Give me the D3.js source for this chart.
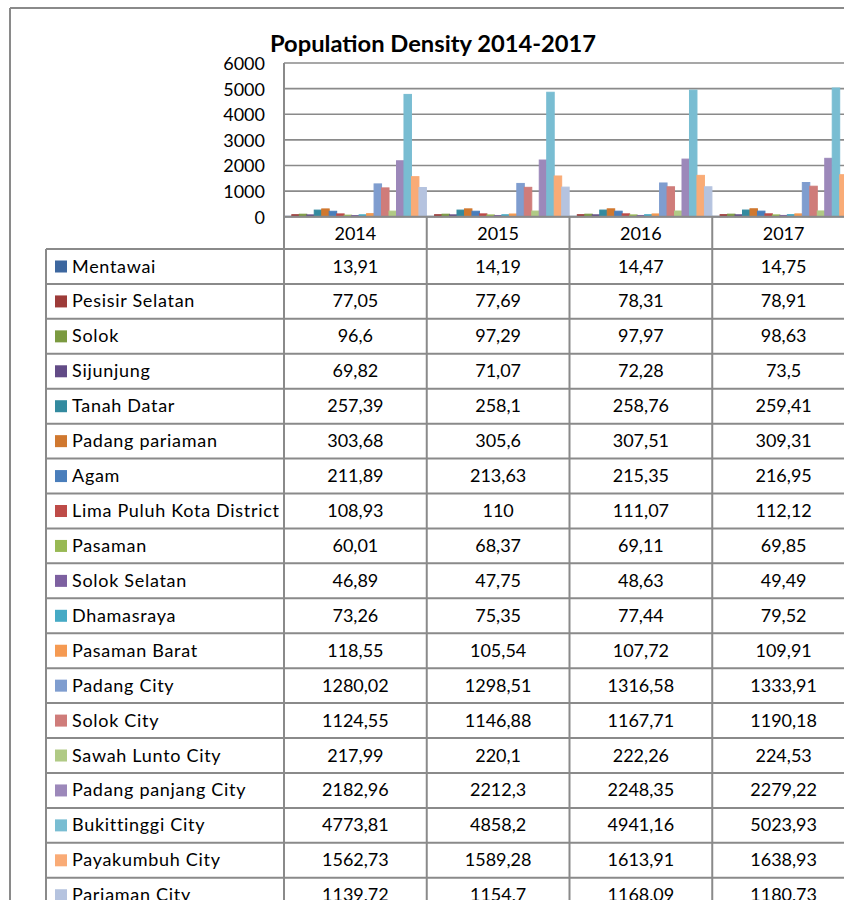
<!DOCTYPE html>
<html>
<head>
<meta charset="utf-8">
<script src="https://cdn.jsdelivr.net/npm/d3@7/dist/d3.min.js"></script>
<style>
  html, body { margin: 0; padding: 0; background: #fff; }
  svg { display: block; font-family: Lato, "Open Sans", sans-serif; }
</style>
</head>
<body>
<svg id="chart" width="844" height="900"></svg>
<script>
const title = "Population Density 2014-2017";
const categories = ["2014", "2015", "2016", "2017"];
const seriesNames = [
  "Mentawai", "Pesisir Selatan", "Solok", "Sijunjung", "Tanah Datar",
  "Padang pariaman", "Agam", "Lima Puluh Kota District", "Pasaman",
  "Solok Selatan", "Dhamasraya", "Pasaman Barat", "Padang City",
  "Solok City", "Sawah Lunto City", "Padang panjang City",
  "Bukittinggi City", "Payakumbuh City", "Pariaman City"
];
const v2014 = [13.91, 77.05, 96.6, 69.82, 257.39, 303.68, 211.89, 108.93, 60.01, 46.89, 73.26, 118.55, 1280.02, 1124.55, 217.99, 2182.96, 4773.81, 1562.73, 1139.72];
const v2015 = [14.19, 77.69, 97.29, 71.07, 258.1, 305.6, 213.63, 110, 68.37, 47.75, 75.35, 105.54, 1298.51, 1146.88, 220.1, 2212.3, 4858.2, 1589.28, 1154.7];
const v2016 = [14.47, 78.31, 97.97, 72.28, 258.76, 307.51, 215.35, 111.07, 69.11, 48.63, 77.44, 107.72, 1316.58, 1167.71, 222.26, 2248.35, 4941.16, 1613.91, 1168.09];
const v2017 = [14.75, 78.91, 98.63, 73.5, 259.41, 309.31, 216.95, 112.12, 69.85, 49.49, 79.52, 109.91, 1333.91, 1190.18, 224.53, 2279.22, 5023.93, 1638.93, 1180.73];
const yTicks = [0, 1000, 2000, 3000, 4000, 5000, 6000];
const colors = [
  "#3d679f", "#9d3b39", "#7b9a40", "#624b86", "#338a9f", "#d0782f",
  "#4a7ebb", "#be4b48", "#98b954", "#7d60a0", "#46aac5", "#f59a52",
  "#7f9dcf", "#cf7c7a", "#b0ca85", "#9c88ba", "#79bdd2", "#f9ab76", "#b5c3df"
];

const valuesByYear = [v2014, v2015, v2016, v2017];
const data = categories.map((c, ci) => ({
  cat: c,
  vals: seriesNames.map((s, si) => ({ name: s, si, v: valuesByYear[ci][si] }))
}));

const svg = d3.select("#chart");
const gridColor = "#8a8a8a";
const plotLeft = 284, plotTop = 63, plotBottom = 216.7;
const catStep = 142.75;
const tableTop = 249, rowH = 34.93, tableLeft = 46, frameLeft = 10;
const W = 844, H = 900;

const x = d3.scaleBand().domain(categories).range([plotLeft, plotLeft + catStep * categories.length]).paddingInner(0).paddingOuter(0);
const xs = d3.scaleBand().domain(d3.range(seriesNames.length)).range([0, x.bandwidth()]).paddingOuter(0.045).paddingInner(0);
const y = d3.scaleLinear().domain([0, 6000]).range([plotBottom, plotTop]);

// Outer chart frame
svg.append("line").attr("x1", frameLeft).attr("x2", W).attr("y1", 8).attr("y2", 8).attr("stroke", gridColor).attr("stroke-width", 2);
svg.append("line").attr("x1", frameLeft).attr("x2", frameLeft).attr("y1", 8).attr("y2", H).attr("stroke", gridColor).attr("stroke-width", 2);

// Title
svg.append("text").attr("x", 433).attr("y", 52).attr("text-anchor", "middle")
  .attr("font-weight", "bold").attr("font-size", 22.5).attr("fill", "#000")
  .attr("textLength", 326).attr("lengthAdjust", "spacingAndGlyphs").text(title);

// Gridlines
svg.append("g").selectAll("line").data(yTicks).join("line")
  .attr("x1", plotLeft).attr("x2", W)
  .attr("y1", d => y(d)).attr("y2", d => y(d))
  .attr("stroke", gridColor).attr("stroke-width", 1.6);

// Y axis labels
const yAxis = d3.axisLeft(y).tickValues(yTicks).tickSize(0).tickPadding(0).tickFormat(d3.format("d"));
const ya = svg.append("g").attr("transform", `translate(${265},0)`).call(yAxis);
ya.select(".domain").remove();
ya.selectAll("text").attr("font-size", 18).attr("fill", "#000").attr("font-family", "Lato, sans-serif").attr("dy", "0.36em");

// Bars
const groups = svg.append("g").selectAll("g").data(data).join("g")
  .attr("transform", d => `translate(${x(d.cat)},0)`);
groups.selectAll("rect").data(d => d.vals).join("rect")
  .attr("x", d => xs(d.si))
  .attr("width", xs.bandwidth())
  .attr("y", d => y(d.v))
  .attr("height", d => plotBottom - y(d.v))
  .attr("fill", d => colors[d.si])
  .attr("stroke", d => colors[d.si])
  .attr("stroke-width", 1);

// Plot left border and x-axis line
svg.append("line").attr("x1", plotLeft).attr("x2", plotLeft).attr("y1", plotTop).attr("y2", H).attr("stroke", gridColor).attr("stroke-width", 2);
svg.append("line").attr("x1", plotLeft).attr("x2", W).attr("y1", plotBottom).attr("y2", plotBottom).attr("stroke", gridColor).attr("stroke-width", 2);

// Category separators in table
svg.append("g").selectAll("line").data(categories.slice(1)).join("line")
  .attr("x1", d => x(d)).attr("x2", d => x(d))
  .attr("y1", plotBottom).attr("y2", H)
  .attr("stroke", gridColor).attr("stroke-width", 2);

// Category header labels
svg.append("g").selectAll("text").data(categories).join("text")
  .attr("x", d => x(d) + x.bandwidth() / 2).attr("y", 240)
  .attr("text-anchor", "middle").attr("font-size", 18).attr("fill", "#000").text(d => d);

// Table rows
const rowIdx = d3.range(seriesNames.length);
svg.append("g").selectAll("line").data(d3.range(seriesNames.length + 1)).join("line")
  .attr("x1", tableLeft).attr("x2", W)
  .attr("y1", i => tableTop + i * rowH).attr("y2", i => tableTop + i * rowH)
  .attr("stroke", gridColor).attr("stroke-width", 2);
svg.append("line").attr("x1", tableLeft).attr("x2", tableLeft).attr("y1", tableTop).attr("y2", H).attr("stroke", gridColor).attr("stroke-width", 2);

// Legend keys and names
const rows = svg.append("g").selectAll("g").data(rowIdx).join("g")
  .attr("transform", i => `translate(0,${tableTop + i * rowH})`);
rows.append("rect").attr("x", 55).attr("y", 11.5).attr("width", 12).attr("height", 12)
  .attr("fill", i => colors[i]);
rows.append("text").attr("x", 72).attr("y", 23.5).attr("font-size", 18).attr("fill", "#000")
  .attr("letter-spacing", 0.7)
  .text(i => seriesNames[i]);

// Values
const fmt = v => String(v).replace(".", ",");
rows.each(function(i) {
  d3.select(this).selectAll("text.val").data(categories).join("text")
    .attr("class", "val")
    .attr("x", c => x(c) + x.bandwidth() / 2).attr("y", 23.5)
    .attr("text-anchor", "middle").attr("font-size", 18).attr("fill", "#000")
    .text((c, ci) => fmt(valuesByYear[ci][i]));
});
</script>
</body>
</html>
